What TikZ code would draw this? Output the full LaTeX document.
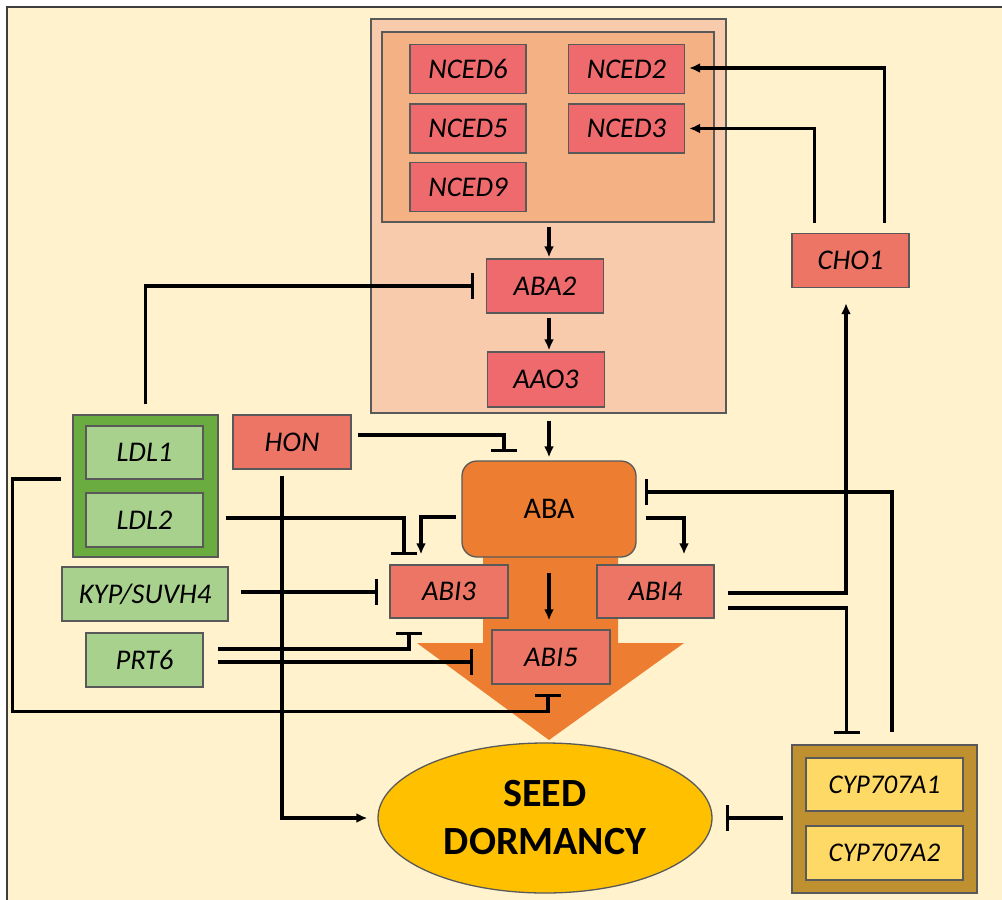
\documentclass[tikz,border=0pt]{standalone}
\usepackage{fontspec}
\setmainfont{Carlito}
\usetikzlibrary{arrows.meta,calc,shapes.geometric}

\definecolor{cream}{HTML}{FFF2CC}
\definecolor{peach}{HTML}{F8CBAD}
\definecolor{apricot}{HTML}{F4B183}
\definecolor{ncedred}{HTML}{EE6A6C}
\definecolor{genered}{HTML}{EC7565}
\definecolor{abaorange}{HTML}{ED7D31}
\definecolor{leafdark}{HTML}{6AAC3F}
\definecolor{leaflight}{HTML}{A9D18E}
\definecolor{gold}{HTML}{BF9030}
\definecolor{goldlight}{HTML}{FFD966}
\definecolor{seedyellow}{HTML}{FFC000}
\definecolor{edge}{HTML}{595959}

\tikzset{
  gene/.style={draw=edge, line width=1.3pt, fill=genered, minimum width=117pt,
    minimum height=54pt, inner sep=0pt, font=\fontsize{28.5}{32}\selectfont\itshape},
  nced/.style={gene, fill=ncedred, minimum width=116pt, minimum height=49pt},
  greengene/.style={gene, fill=leaflight},
  cypgene/.style={gene, fill=goldlight, minimum width=157pt,
    font=\fontsize{27}{30}\selectfont\itshape},
  group/.style={draw=edge, line width=1.3pt, inner sep=0pt},
  act/.style={line width=3.2pt, -{Latex[length=11pt,width=10pt]}},
  inh/.style={line width=3.2pt, -{Bar[width=26pt]}},
}

\begin{document}
\begin{tikzpicture}[x=1pt, y=-1pt]
			\useasboundingbox (0,0) rectangle (1002,900);
			\fill[white] (0,0) rectangle (1002,900);
			\fill[cream] (7,7) rectangle (1002,900);
			\draw[edge!70!black, line width=2.5pt] (7,900) -- (7,7) -- (1002,7);
			
			% ABA synthesis
			\node[group, fill=peach, minimum width=355pt, minimum height=394pt] (synth) at (548.5,216) {};
			\node[group, fill=apricot, minimum width=332pt, minimum height=190pt] (ncedbox) at (548,127) {};
			\node[nced] (nced6) at (468,69) {NCED6};
			\node[nced] (nced2) at (626.5,69) {NCED2};
			\node[nced] (nced5) at (468,128.5) {NCED5};
			\node[nced] (nced3) at (626.5,128.5) {NCED3};
			\node[nced] (nced9) at (468,187) {NCED9};
			\node[nced, minimum width=117pt, minimum height=54pt] (aba2) at (545,286) {ABA2};
			\node[nced, minimum width=117pt, minimum height=55pt] (aao3) at (546,379.5) {AAO3};
			
			\node[gene] (cho1) at (850.5,260.5) {CHO1};
			\node[gene, minimum width=118pt] (hon) at (292,442) {HON};
			
			% repressors on the left
			\node[group, fill=leafdark, minimum width=145pt, minimum height=142pt] (ldlbox) at (145.5,486) {};
			\node[greengene, minimum height=53pt] (ldl1) at (144.5,452.5) {LDL1};
			\node[greengene] (ldl2) at (144.5,520) {LDL2};
			\node[greengene, minimum width=166pt] (kyp) at (145,594) {KYP/SUVH4};
			\node[greengene] (prt6) at (144.5,660) {PRT6};
			
			% ABA signalling
			\fill[abaorange] (483,540) -- (483,643) -- (417,643) -- (549,740) -- (684,643) -- (618,643) -- (618,540) -- cycle;
			\node[group, fill=abaorange, rounded corners=15pt, minimum width=174pt, minimum height=96pt,
			  font=\fontsize{30}{34}\selectfont] (aba) at (549,509) {ABA};
			\node[gene, minimum width=118pt, minimum height=53pt] (abi3) at (449,591.5) {ABI3};
			\node[gene, minimum height=53pt] (abi4) at (655.5,591.5) {ABI4};
			\node[gene, minimum width=118pt] (abi5) at (551,657) {ABI5};
			
			\node[ellipse, draw=edge, line width=1.3pt, fill=seedyellow, minimum width=334pt, minimum height=150pt,
			  align=center, font=\fontsize{40}{48}\selectfont\bfseries] (seed) at (545,818) {SEED\\DORMANCY};
			
			% catabolism
			\node[group, fill=gold, minimum width=185pt, minimum height=148pt] (cypbox) at (884.5,819) {};
			\node[cypgene, minimum height=53pt] (cyp1) at (884.5,784.5) {CYP707A1};
			\node[cypgene] (cyp2) at (884.5,853) {CYP707A2};
			
			\draw[act] ($(ncedbox.south)+(1,4)$) -- ($(ncedbox.south |- aba2.north)+(1,-1)$);
			\draw[act] ($(aba2.south)+(4,4)$) -- ($(aba2.south |- aao3.north)+(4,-1)$);
			\draw[act] ($(aao3.south)+(3,13)$) -- ($(aao3.south |- aba.north)+(3,-3)$);
			\draw[inh] ($(ldlbox.north)+(0,-10)$) |- ($(aba2.west)+(-12,0)$);
			\draw[act] ($(cho1.north)+(34,-10)$) |- ($(nced2.east)+(4,-1)$);
			\draw[act] ($(cho1.north)+(-36,-10)$) |- ($(nced3.east)+(4,0)$);
			\draw[act] ($(abi4.east)+(13,1.5)$) -| ($(cho1.south)+(-4.5,15)$);
			\draw[inh] ($(abi4.east)+(13,16.5)$) -| ($(cypbox.north)+(-38,-10)$);
			\draw[inh] ($(cypbox.north)+(7.5,-12)$) |- ($(aba.east)+(8,-17)$);
			\draw[inh] ($(cypbox.west |- seed.east)+(-8,0)$) -- ($(seed.east)+(13,0)$);
			\draw[act] ($(hon.south)+(-10,6)$) |- ($(seed.west)+(-10,0)$);
			\draw[inh] ($(hon.east)+(6,-7)$) -| ($(aba.north)+(-45,-8)$);
			\draw[act] ($(aba.west)+(-5,8)$) -| ($(abi3.north)+(-28,-10)$);
			\draw[act] ($(aba.east)+(9,9)$) -| ($(abi4.north)+(28.5,-10)$);
			\draw[act] ($(aba.south)+(0,15)$) -- ($(aba.south |- abi5.north)+(0,-9)$);
			\draw[inh] ($(ldlbox.east |- ldl2.east)+(7,-2)$) -| ($(abi3.north)+(-45,-9)$);
			\draw[inh] ($(kyp.east)+(12,-2)$) -- ($(abi3.west |- kyp.east)+(-11,-2)$);
			\draw[inh] ($(prt6.east)+(14,-11)$) -| ($(abi3.south)+(-40,13)$);
			\draw[inh] ($(prt6.east)+(14,2)$) -- ($(abi5.west |- prt6.east)+(-18,2)$);
			\draw[inh] ($(ldlbox.west)+(-11,-7)$) -- ++(-49,0) |- ($(abi5.south)+(-3,27)$) -- ($(abi5.south)+(-3,9)$);
		\end{tikzpicture}
\end{document}
